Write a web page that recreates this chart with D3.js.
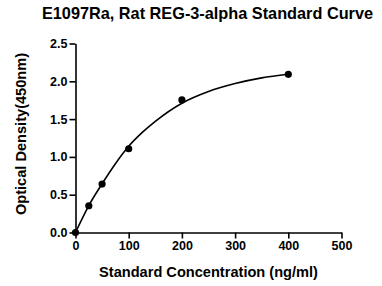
<!DOCTYPE html>
<html><head><meta charset="utf-8">
<script src="https://cdn.jsdelivr.net/npm/d3@7"></script>
<style>body{margin:0;background:#fff}svg{display:block}text{font-family:"Liberation Sans",Arial,sans-serif;font-weight:bold;fill:#000}</style>
</head><body><svg id="c" width="382" height="286"></svg>
<script>
const concentrations = [0, 25, 50, 100, 200, 400];
const densities = [0, 0.354, 0.641, 1.108, 1.753, 2.092];
const curveX = [0, 25, 50, 75, 100, 125, 150, 200, 250, 300, 350, 400];
const curveY = [0, 0.357, 0.645, 0.91, 1.14, 1.32, 1.47, 1.71, 1.865, 1.97, 2.045, 2.093];
const xTicks = [0, 100, 200, 300, 400, 500];
const yTicks = [0, 0.5, 1.0, 1.5, 2.0, 2.5];
const title = "E1097Ra, Rat REG-3-alpha Standard Curve";
const xTitle = "Standard Concentration (ng/ml)";
const yTitle = "Optical Density(450nm)";

const svg = d3.select("#c");
const x = d3.scaleLinear().domain([0, 500]).range([75.5, 341.5]);
const y = d3.scaleLinear().domain([0, 2.5]).range([232.5, 43.5]);

svg.append("text").attr("x", 207.5).attr("y", 18.5).attr("text-anchor", "middle")
  .style("font-size", "16.3px").text(title);

const xa = svg.append("g").attr("transform", "translate(0,232.5)")
  .call(d3.axisBottom(x).tickValues(xTicks).tickFormat(d3.format("d")).tickSize(6).tickPadding(3).tickSizeOuter(0));
const ya = svg.append("g").attr("transform", "translate(75.5,0)")
  .call(d3.axisLeft(y).tickValues(yTicks).tickFormat(d3.format(".1f")).tickSize(6).tickPadding(2).tickSizeOuter(0));
[xa, ya].forEach(a => {
  a.selectAll("path,line").attr("stroke", "#000").attr("stroke-width", 1.6);
  a.selectAll("text").style("font-size", "12.5px").style("font-family", '"Liberation Sans",Arial,sans-serif').style("font-weight", "bold").attr("fill", "#000");
});

svg.append("text").attr("x", 208.5).attr("y", 277).attr("text-anchor", "middle")
  .style("font-size", "14.6px").text(xTitle);
svg.append("text").attr("transform", "translate(25.5,134) rotate(-90)").attr("text-anchor", "middle")
  .style("font-size", "14.6px").text(yTitle);

const line = d3.line().x(d => x(d[0])).y(d => y(d[1])).curve(d3.curveMonotoneX);
svg.append("path").datum(curveX.map((v, i) => [v, curveY[i]]))
  .attr("d", line).attr("fill", "none").attr("stroke", "#000").attr("stroke-width", 1.6);

svg.selectAll("circle.pt").data(concentrations.map((v, i) => [v, densities[i]])).enter()
  .append("circle").attr("class", "pt").attr("cx", d => x(d[0])).attr("cy", d => y(d[1])).attr("r", 3.6).attr("fill", "#000");
</script></body></html>
